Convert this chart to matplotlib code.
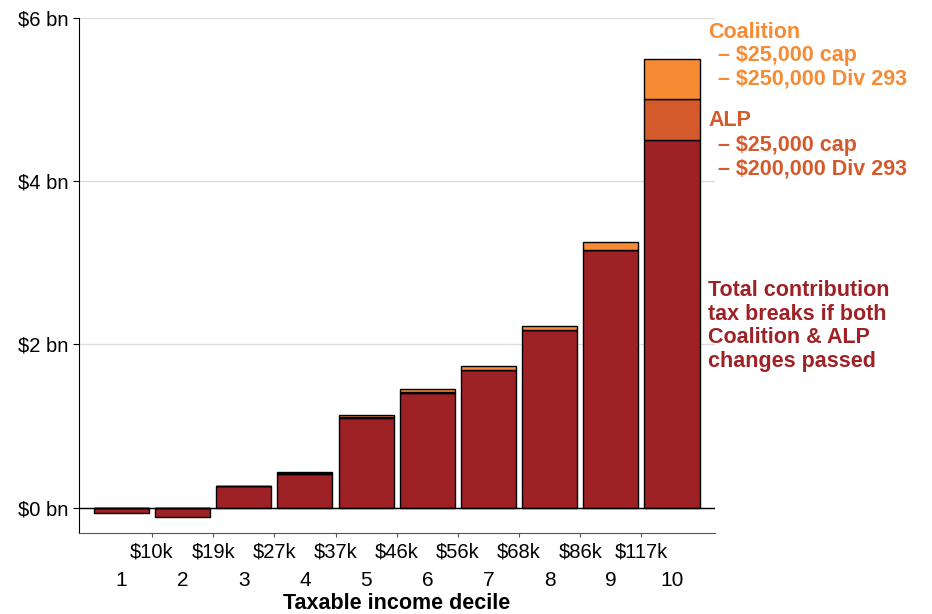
import numpy as np
import matplotlib.pyplot as plt

plt.rcParams['font.family'] = ['Liberation Sans', 'DejaVu Sans']
plt.rcParams['font.size'] = 14.5

deciles = np.arange(1, 11)
decile_labels = [str(d) for d in deciles]
income_labels = ["$10k", "$19k", "$27k", "$37k", "$46k", "$56k", "$68k", "$86k", "$117k"]

# $ bn
base = [-0.06, -0.11, 0.26, 0.41, 1.10, 1.41, 1.68, 2.17, 3.15, 4.50]
alp = [0.0, 0.0, 0.0, 0.02, 0.01, 0.01, 0.01, 0.01, 0.01, 0.50]
coalition = [0.0, 0.0, 0.01, 0.01, 0.03, 0.03, 0.04, 0.04, 0.09, 0.50]

c_base = "#9E2126"
c_alp = "#D55A2B"
c_coal = "#F68B33"

fig = plt.figure(figsize=(9.32, 6.14), dpi=100)
ax = fig.add_axes([0.085, 0.132, 0.682, 0.839])

base = np.array(base)
alp = np.array(alp)
coalition = np.array(coalition)
bottom_alp = np.where(base > 0, base, 0)

ax.bar(deciles, base, width=0.9, color=c_base, edgecolor="black", linewidth=1, zorder=3)
ax.bar(deciles, alp, bottom=bottom_alp, width=0.9, color=c_alp, edgecolor="black", linewidth=1, zorder=3)
ax.bar(deciles, coalition, bottom=bottom_alp + alp, width=0.9, color=c_coal, edgecolor="black", linewidth=1, zorder=3)

ax.axhline(0, color="black", linewidth=1, zorder=4)

ax.set_ylim(-0.31, 6)
ax.set_xlim(0.31, 10.7)
ax.set_yticks([0, 2, 4, 6])
ax.set_yticklabels(["$0 bn", "$2 bn", "$4 bn", "$6 bn"])
ax.yaxis.grid(True, color="#dddddd", linewidth=1, zorder=0)

ax.set_xticks(np.arange(1.5, 10, 1))
ax.set_xticklabels(income_labels)
ax.set_xticks(deciles, minor=True)
ax.set_xticklabels(decile_labels, minor=True, fontsize=15)
ax.tick_params(axis="x", which="major", length=3, pad=4, labelsize=14.5, color="#555555")
ax.tick_params(axis="x", which="minor", length=0, pad=27.5)
ax.tick_params(axis="y", length=4, labelsize=14.5)
ax.set_xlabel("Taxable income decile", fontsize=15.5, fontweight="bold", labelpad=2)

for s in ["top", "right"]:
    ax.spines[s].set_visible(False)
ax.spines["bottom"].set_color("#555555")

x0 = 708 / 932
x1 = 718 / 932
def fy(py):
    return 1 - py / 614

fs = 15.5
fig.text(x0, fy(32), "Coalition", color=c_coal, fontsize=fs, fontweight="bold", va="center")
fig.text(x1, fy(55), "– $25,000 cap", color=c_coal, fontsize=fs, fontweight="bold", va="center")
fig.text(x1, fy(79), "– $250,000 Div 293", color=c_coal, fontsize=fs, fontweight="bold", va="center")
fig.text(x0, fy(121), "ALP", color=c_alp, fontsize=fs, fontweight="bold", va="center")
fig.text(x1, fy(145), "– $25,000 cap", color=c_alp, fontsize=fs, fontweight="bold", va="center")
fig.text(x1, fy(169), "– $200,000 Div 293", color=c_alp, fontsize=fs, fontweight="bold", va="center")
fig.text(x0, fy(280), "Total contribution\ntax breaks if both\nCoalition & ALP\nchanges passed",
         color=c_base, fontsize=fs, fontweight="bold", va="top", linespacing=1.16)

fig.savefig("out.png", dpi=100)
